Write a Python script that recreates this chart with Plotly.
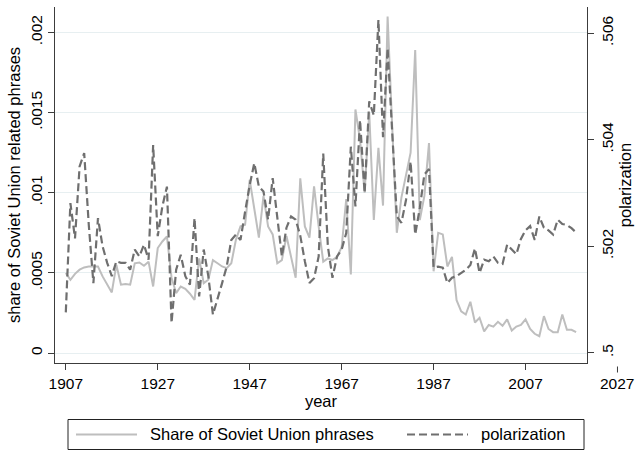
import plotly.graph_objects as go

# ---------------- data ----------------
years = list(range(1907, 2019))

share_soviet = [
    0.000499, 0.000457, 0.000494, 0.00052, 0.000534, 0.00054, 0.00054, 0.00054, 0.000478, 0.000426,   # 1907-1916
    0.000378, 0.00055, 0.000426, 0.00043, 0.000426, 0.00056, 0.000565, 0.000544, 0.00057, 0.000415,   # 1917-1926
    0.000655, 0.000696, 0.000727, 0.00047, 0.000374, 0.000415, 0.0004, 0.00037, 0.000332, 0.00059,    # 1927-1936
    0.000436, 0.000457, 0.00058, 0.00056, 0.00054, 0.00053, 0.00056, 0.000706, 0.00079, 0.0008,       # 1937-1946
    0.00108, 0.0009, 0.00072, 0.00098, 0.00079, 0.00074, 0.00056, 0.00058, 0.00073, 0.0006,           # 1947-1956
    0.00047, 0.00109, 0.00079, 0.00072, 0.00104, 0.00079, 0.00057, 0.00059, 0.00058, 0.0006,          # 1957-1966
    0.00066, 0.00096, 0.00049, 0.00152, 0.00133, 0.001, 0.0015, 0.00083, 0.00128, 0.00092,            # 1967-1976
    0.0021, 0.00141, 0.00075, 0.00097, 0.00112, 0.00125, 0.00189, 0.00083, 0.00098, 0.00131,          # 1977-1986
    0.00051, 0.00075, 0.00074, 0.00054, 0.0006, 0.00033, 0.00026, 0.00024, 0.00032, 0.00019,          # 1987-1996
    0.00022, 0.000135, 0.000175, 0.000165, 0.000195, 0.00017, 0.00021, 0.00014, 0.000165, 0.000175,   # 1997-2006
    0.00021, 0.00015, 0.00012, 0.000105, 0.00023, 0.00015, 0.00013, 0.00013, 0.00024, 0.000145,       # 2007-2016
    0.000145, 0.00013,                                                                                  # 2017-2018
]

polarization = [
    0.50076, 0.50281, 0.50215, 0.5035, 0.50375, 0.5024, 0.50131, 0.50253, 0.502, 0.50169,             # 1907-1916
    0.50144, 0.50172, 0.50169, 0.50169, 0.50156, 0.50194, 0.50181, 0.50203, 0.50175, 0.5039,           # 1917-1926
    0.50219, 0.50275, 0.50312, 0.50056, 0.50156, 0.50184, 0.50144, 0.50128, 0.50253, 0.50106,          # 1927-1936
    0.50194, 0.50144, 0.50072, 0.501, 0.50131, 0.50162, 0.50212, 0.50222, 0.50212, 0.50265,            # 1937-1946
    0.50315, 0.50356, 0.50312, 0.50303, 0.5025, 0.50328, 0.50255, 0.50181, 0.50235, 0.50256,           # 1947-1956
    0.5025, 0.5022, 0.50172, 0.50131, 0.5014, 0.50181, 0.50374, 0.502, 0.50141, 0.50181,               # 1957-1966
    0.50194, 0.50225, 0.50387, 0.50275, 0.50437, 0.503, 0.50472, 0.50446, 0.50625, 0.50405,            # 1967-1976
    0.50572, 0.5041, 0.50256, 0.50244, 0.50287, 0.50359, 0.50222, 0.50272, 0.50335, 0.50345,           # 1977-1986
    0.5016, 0.50162, 0.5016, 0.50131, 0.50141, 0.50144, 0.5015, 0.50156, 0.50165, 0.50196,            # 1987-1996
    0.5015, 0.50175, 0.50172, 0.50181, 0.50169, 0.50167, 0.50203, 0.50194, 0.50185, 0.50214,           # 1997-2006
    0.5023, 0.50238, 0.50212, 0.50256, 0.50235, 0.5023, 0.50222, 0.5025, 0.50242, 0.5024,              # 2007-2016
    0.50234, 0.50226,                                                                                   # 2017-2018
]

x_tickvals = [1907, 1927, 1947, 1967, 1987, 2007]
x_extra_tick = 2027
left_tickvals = [0, 0.0005, 0.001, 0.0015, 0.002]
left_ticktext = ["0", ".0005", ".001", ".0015", ".002"]
right_tickvals = [0.5, 0.502, 0.504, 0.506]
right_ticktext = [".5", ".502", ".504", ".506"]

legend_labels = ["Share of Soviet Union phrases", "polarization"]

# ---------------- style ----------------
W, H = 636, 452
ML, MR, MT, MB = 55, 49, 7, 89
PW, PH = W - ML - MR, H - MT - MB
FONT = "Liberation Sans, Arial, sans-serif"
TICK = dict(family=FONT, size=15.5, color="black")
TXT = dict(family=FONT, size=16.5, color="black")
SOLID_C = "#BEBEBE"
DASH_C = "#6F6F6F"
AXIS_C = "#3C3C3C"
GRID_C = "#E7EFF1"

x_range = [1904.65, 2020.37]
yl_range = [-0.0000623, 0.002159]
yr_range = [0.49981, 0.506492]


def px_x(px):
    return (px - ML) / PW


def px_y(py):
    return (H - MB - py) / PH


fig = go.Figure()
fig.add_trace(go.Scatter(
    x=years, y=share_soviet, mode="lines", name=legend_labels[0],
    line=dict(color=SOLID_C, width=2), yaxis="y", showlegend=False,
))
fig.add_trace(go.Scatter(
    x=years, y=polarization, mode="lines", name=legend_labels[1],
    line=dict(color=DASH_C, width=2.2, dash="8px,4px"), yaxis="y2", showlegend=False,
))

fig.update_layout(
    width=W, height=H,
    margin=dict(l=ML, r=MR, t=MT, b=MB),
    paper_bgcolor="white", plot_bgcolor="white",
    font=TXT,
    xaxis=dict(
        range=x_range, tickvals=x_tickvals, ticks="outside", ticklen=6, tickcolor=AXIS_C,
        showline=True, linecolor=AXIS_C, linewidth=1, showgrid=False, zeroline=False,
        tickfont=TICK, title=dict(text="year", standoff=1, font=TXT), automargin=False,
    ),
    yaxis=dict(
        range=yl_range, tickvals=left_tickvals, ticktext=left_ticktext, tickangle=-90,
        ticks="outside", ticklen=6, tickcolor=AXIS_C,
        showline=True, linecolor=AXIS_C, linewidth=1,
        showgrid=True, gridcolor=GRID_C, gridwidth=1, zeroline=False,
        tickfont=TICK, title=dict(text="share of Soviet Union related phrases", standoff=3, font=TXT),
        automargin=False,
    ),
    yaxis2=dict(
        range=yr_range, tickvals=right_tickvals, ticktext=right_ticktext, tickangle=-90,
        overlaying="y", side="right", ticks="outside", ticklen=6, tickcolor=AXIS_C,
        showline=True, linecolor=AXIS_C, linewidth=1, showgrid=False, zeroline=False,
        tickfont=TICK, title=dict(text="polarization", standoff=3, font=TXT), automargin=False,
    ),
)

# Stata draws the 2027 tick beyond the plot region
x_extra_frac = (x_extra_tick - x_range[0]) / (x_range[1] - x_range[0])
fig.add_shape(type="line", xref="paper", yref="paper",
              x0=x_extra_frac, x1=x_extra_frac, y0=px_y(366.5), y1=px_y(372.5),
              line=dict(color=AXIS_C, width=1))
fig.add_annotation(xref="paper", yref="paper", x=x_extra_frac, y=px_y(383.5),
                   text=str(x_extra_tick), showarrow=False, xanchor="center", yanchor="middle",
                   font=TICK)

# legend box drawn like Stata's
fig.add_shape(type="rect", xref="paper", yref="paper",
              x0=px_x(68), x1=px_x(584), y0=px_y(449.5), y1=px_y(419.5),
              line=dict(color="#222222", width=1), fillcolor="white")
fig.add_shape(type="line", xref="paper", yref="paper",
              x0=px_x(76), x1=px_x(137), y0=px_y(434.5), y1=px_y(434.5),
              line=dict(color=SOLID_C, width=2))
fig.add_shape(type="line", xref="paper", yref="paper",
              x0=px_x(407), x1=px_x(468), y0=px_y(434.5), y1=px_y(434.5),
              line=dict(color=DASH_C, width=2.2, dash="8px,4px"))
fig.add_annotation(xref="paper", yref="paper", x=px_x(148), y=px_y(434.5),
                   text=legend_labels[0], showarrow=False, xanchor="left", yanchor="middle",
                   font=TXT)
fig.add_annotation(xref="paper", yref="paper", x=px_x(479), y=px_y(434.5),
                   text=legend_labels[1], showarrow=False, xanchor="left", yanchor="middle",
                   font=TXT)

fig.write_html(
    "out.html",
    config={"displayModeBar": False},
    post_script="document.body.style.margin='0';document.body.style.padding='0';"
                "document.documentElement.style.overflow='hidden';",
)
